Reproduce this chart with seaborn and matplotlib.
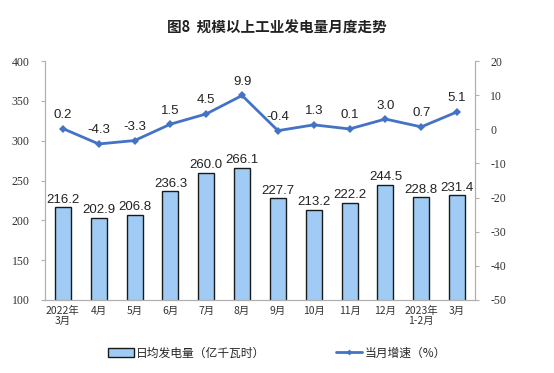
import matplotlib
matplotlib.use("Agg")
import matplotlib.pyplot as plt
from matplotlib.lines import Line2D
from matplotlib.patches import Patch
import numpy as np
import pandas as pd
import seaborn as sns

months = ["2022年\n3月", "4月", "5月", "6月", "7月", "8月", "9月",
          "10月", "11月", "12月", "2023年\n1-2月", "3月"]
daily_output = [216.2, 202.9, 206.8, 236.3, 260.0, 266.1, 227.7,
                213.2, 222.2, 244.5, 228.8, 231.4]
growth = [0.2, -4.3, -3.3, 1.5, 4.5, 9.9, -0.4, 1.3, 0.1, 3.0, 0.7, 5.1]

BAR_COLOR = "#9fcbf5"
LINE_COLOR = "#4472c4"
CJK = ["Noto Sans CJK SC", "DejaVu Sans"]
NUM = "Liberation Serif"
LBL = "Liberation Sans"

sns.set_style("white")
plt.rcParams["font.family"] = CJK
plt.rcParams["axes.unicode_minus"] = False

df = pd.DataFrame({"month": months, "output": daily_output, "growth": growth})
df["pos"] = np.arange(len(df))

fig = plt.figure(figsize=(5.54, 3.73), dpi=100)
ax = fig.add_axes([45 / 554, 73 / 373, 430 / 554, 239 / 373])

sns.barplot(data=df, x="month", y="output", color=BAR_COLOR, width=0.45,
            edgecolor="#1a1a1a", linewidth=1.0, saturation=1, ax=ax)
ax.set_ylim(100, 400)
ax.set_xlim(-0.5, len(df) - 0.5)
ax.set_yticks(range(100, 401, 50))
ax.set_xlabel("")
ax.set_ylabel("")
for i, v in enumerate(daily_output):
    ax.text(i, v + 2, f"{v:.1f}", ha="center", va="bottom",
            fontsize=9.5, family=LBL, color="#222222")

ax2 = ax.twinx()
sns.lineplot(data=df, x="pos", y="growth", color=LINE_COLOR, linewidth=2,
             marker="D", markersize=4, markeredgewidth=0, ax=ax2)
ax2.set_ylim(-50, 20)
ax2.set_yticks(range(-50, 21, 10))
ax2.set_xlim(-0.5, len(df) - 0.5)
ax2.set_xlabel("")
ax2.set_ylabel("")
for i, v in enumerate(growth):
    ax2.text(i, v + 2.2, f"{v:.1f}", ha="center", va="bottom",
             fontsize=9.5, family=LBL, color="#222222")

for a in (ax, ax2):
    a.spines["top"].set_visible(False)
    for s in ("left", "right", "bottom"):
        a.spines[s].set_color("#b0b0b0")
        a.spines[s].set_linewidth(0.8)
    a.tick_params(axis="y", length=3, color="#b0b0b0", labelsize=8.5,
                  labelcolor="#333333", pad=8, labelfontfamily=NUM)

ax.tick_params(axis="x", length=0, labelsize=7.5, labelcolor="#333333", pad=4)
ax.set_xticks(range(len(months)))
ax.set_xticklabels(months, linespacing=1.1)

fig.suptitle("图8  规模以上工业发电量月度走势", y=1 - 28 / 373, va="center",
             fontsize=10.5, fontweight="bold", color="#222222")

handles = [
    Patch(facecolor=BAR_COLOR, edgecolor="#1a1a1a", linewidth=1.0),
    Line2D([0], [0], color=LINE_COLOR, linewidth=2, marker="D",
           markersize=3, markeredgewidth=0),
]
fig.legend(handles, ["日均发电量（亿千瓦时）", "当月增速（%）"],
           loc="center", bbox_to_anchor=(0.5, 1 - 353 / 373), ncol=2,
           frameon=False, fontsize=8.5, columnspacing=6, handlelength=2.2,
           handleheight=0.7, handletextpad=0.2)

fig.savefig("out.png", dpi=100)
